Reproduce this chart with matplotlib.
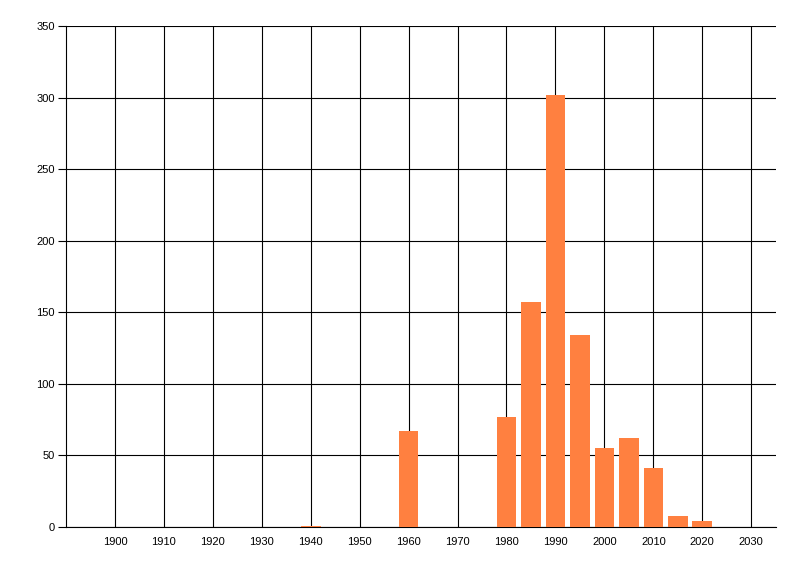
import matplotlib
matplotlib.use("Agg")
import matplotlib.pyplot as plt

# decades / half-decades and counts
years = [1940, 1960, 1980, 1985, 1990, 1995, 2000, 2005, 2010, 2015, 2020]
counts = [1, 67, 77, 157, 302, 134, 55, 62, 41, 8, 4]

xticks = list(range(1900, 2031, 10))
yticks = list(range(0, 351, 50))

plt.rcParams['font.family'] = ['Liberation Sans', 'DejaVu Sans']

fig = plt.figure(figsize=(8, 5.76), dpi=100)
ax = fig.add_axes([0.0825, 0.0851, 0.8871, 0.8692])

ax.bar(years, counts, width=4, color="#FF8040", zorder=3)

ax.set_xlim(1890, 2035)
ax.set_ylim(0, 350)
ax.set_xticks(xticks)
ax.set_yticks(yticks)
ax.grid(True, color="black", linewidth=0.8, zorder=0)

for s in ["top", "right"]:
    ax.spines[s].set_visible(False)
for s in ["left", "bottom"]:
    ax.spines[s].set_linewidth(0.8)

ax.tick_params(axis="y", length=6, width=0.8, pad=2, labelsize=8)
ax.tick_params(axis="x", length=0, pad=7, labelsize=8)

fig.savefig("out.png", dpi=100)
